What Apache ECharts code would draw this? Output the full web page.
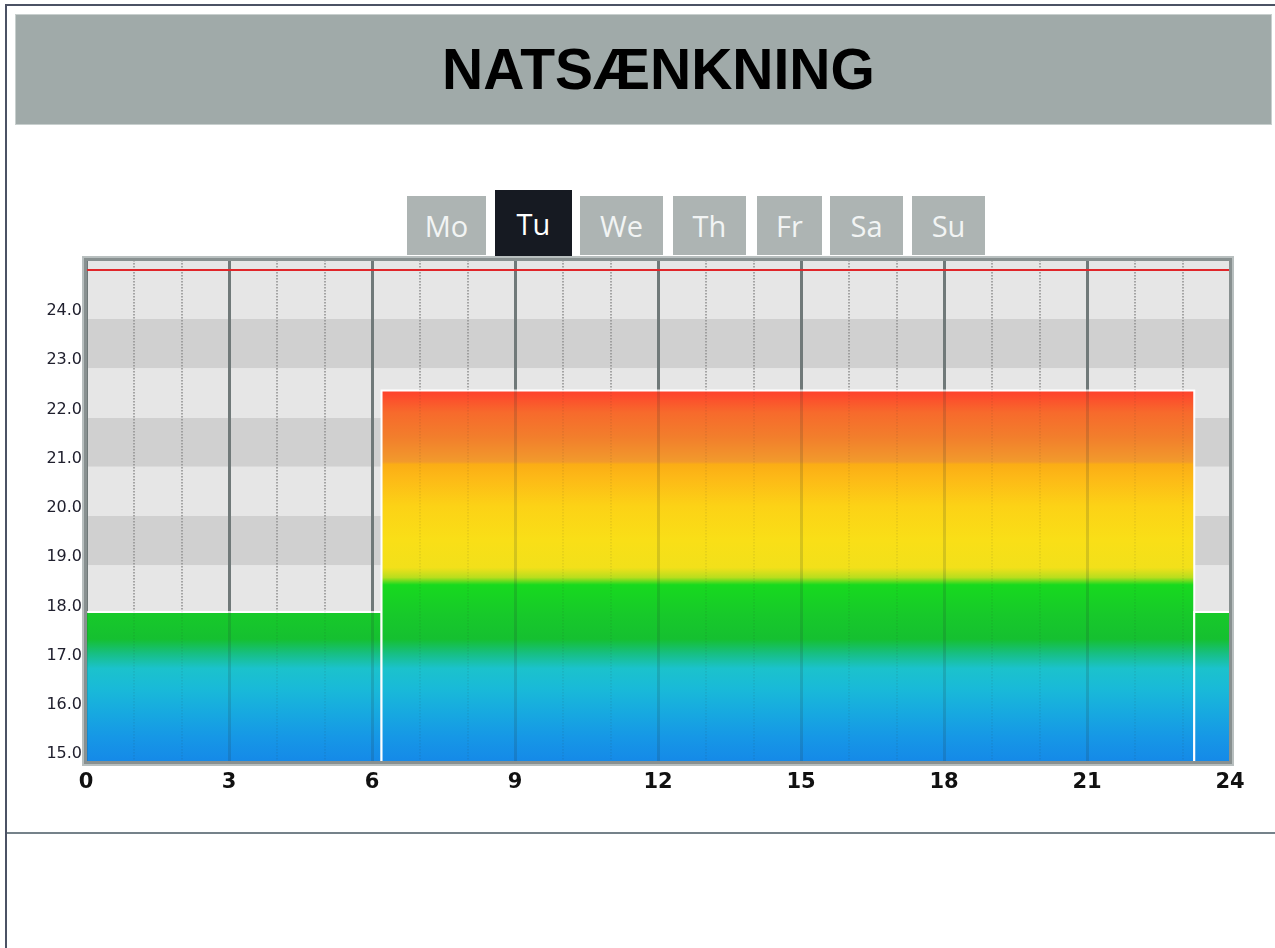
<!DOCTYPE html>
<html>
<head>
<meta charset="utf-8">
<script src="https://cdn.jsdelivr.net/npm/echarts@6/dist/echarts.min.js"></script>
<style>
  body { margin: 0; width: 1275px; height: 948px; background: #fff; position: relative; overflow: hidden; }
  .frame-top { position: absolute; left: 5px; top: 4px; width: 1270px; height: 2px; background: #4b5264; }
  .frame-left { position: absolute; left: 5px; top: 4px; width: 2px; height: 944px; background: #4b5264; }
  .divider { position: absolute; left: 7px; top: 832px; width: 1268px; height: 2px; background: #75828a; }
  .banner { position: absolute; left: 16px; top: 15px; width: 1255px; height: 109px; background: #a0aaa9; box-shadow: 0 0 0 1px #c8cfce; }
  .banner h1 { margin: 0; font: bold 57px/109px "Liberation Sans", Arial, sans-serif; color: #000; text-align: center; padding-left: 30px; }
  .tab { position: absolute; top: 196px; height: 59px; background: #adb4b3; color: #f2f4f4; font: 29px "Open Sans", sans-serif; line-height: 60px; text-align: center; }
  .tab.active { top: 190px; height: 67px; line-height: 68px; background: #161a22; color: #fff; }
  #chart { position: absolute; left: 0; top: 240px; width: 1275px; height: 580px; }
</style>
</head>
<body>
<div class="frame-top"></div>
<div class="frame-left"></div>
<div class="divider"></div>
<div class="banner"><h1>NATSÆNKNING</h1></div>
<div id="tabs"></div>
<div id="chart"></div>

<script>
// week day tabs
const days = ['Mo', 'Tu', 'We', 'Th', 'Fr', 'Sa', 'Su'];
const activeDay = 'Tu';
// tab boxes: [left, width]
const tabBoxes = [[407, 79], [495, 77], [580, 83], [673, 73], [757, 65], [830, 73], [912, 73]];

// schedule for the day (hours) and setpoint temperature
const periodStart = [0, 6.2, 23.25];
const periodEnd = [6.2, 23.25, 24];
const setpoints = [18.05, 22.55, 18.05];
const maxLimit = 25.0;

const xTickLabels = ['0', '3', '6', '9', '12', '15', '18', '21', '24'];
const yTickLabels = ['15.0', '16.0', '17.0', '18.0', '19.0', '20.0', '21.0', '22.0', '23.0', '24.0'];

// colour scale by temperature
const gradTemps = [15.0, 15.5, 16.0, 16.5, 16.9, 17.2, 17.5, 18.0, 18.6, 18.75, 18.95, 19.5, 20.2, 20.8, 21.05, 21.1, 21.6, 22.1, 22.55];
const gradColors = ['#1589e8', '#1697e6', '#17a9e0', '#19bad8', '#1bc2cc', '#17bf84', '#15c030', '#17c92a', '#17da1e', '#b8de1e', '#f2e01a',
  '#f9df17', '#fcd216', '#fdb817', '#fbad15', '#f29a2c', '#f27e2c', '#f76a2c', '#ff402c'];

// horizontal bands from 15 upward, one per degree (last one is the strip above 25)
const bandColors = ['#d0d0d0', '#e6e6e6', '#d0d0d0', '#e6e6e6', '#d0d0d0', '#e6e6e6', '#d0d0d0', '#e6e6e6', '#d0d0d0', '#e6e6e6', '#e6e6e6'];

const yMin = 15, yMax = 25.2;

const tabsEl = document.getElementById('tabs');
days.forEach((d, i) => {
  const el = document.createElement('div');
  el.className = 'tab' + (d === activeDay ? ' active' : '');
  el.style.left = tabBoxes[i][0] + 'px';
  el.style.width = tabBoxes[i][1] + 'px';
  el.textContent = d;
  tabsEl.appendChild(el);
});

const data = periodStart.map((s, i) => [s, periodEnd[i], setpoints[i]]);

function renderItem(params, api) {
  const p0 = api.coord([api.value(0), api.value(2)]);
  const p1 = api.coord([api.value(1), yMin]);
  const last = gradTemps.length - 1;
  const gBot = api.coord([0, gradTemps[0]])[1];
  const gTop = api.coord([0, gradTemps[last]])[1];
  const stops = gradTemps.map((t, i) => ({
    offset: (t - gradTemps[0]) / (gradTemps[last] - gradTemps[0]),
    color: gradColors[i]
  }));
  return {
    type: 'rect',
    shape: { x: p0[0], y: p0[1], width: p1[0] - p0[0], height: p1[1] - p0[1] },
    style: {
      fill: new echarts.graphic.LinearGradient(0, gBot, 0, gTop, stops, true),
      stroke: '#ffffff',
      lineWidth: 2
    }
  };
}

const chart = echarts.init(document.getElementById('chart'));
chart.setOption({
  animation: false,
  grid: { left: 86, top: 20, width: 1144, height: 502, show: false },
  xAxis: [
    {
      type: 'value', min: 0, max: 24, interval: 3, z: 1,
      axisLine: { show: false }, axisTick: { show: false },
      axisLabel: {
        margin: 10, color: '#111', fontFamily: 'DejaVu Sans', fontWeight: 'bold', fontSize: 21,
        formatter: v => xTickLabels.includes(String(v)) ? String(v) : ''
      },
      splitLine: { show: true, lineStyle: { color: '#7f8787', width: 3 } },
      minorTick: { show: false, splitNumber: 3 },
      minorSplitLine: { show: true, lineStyle: { color: '#9c9c9c', width: 1.5, type: 'dotted' } }
    },
    {
      // faint lines drawn over the bars
      type: 'value', min: 0, max: 24, interval: 3, z: 4, position: 'top',
      axisLine: { show: false }, axisTick: { show: false }, axisLabel: { show: false },
      splitLine: { show: true, lineStyle: { color: 'rgba(40,50,50,0.16)', width: 3 } },
      minorTick: { show: false, splitNumber: 3 },
      minorSplitLine: { show: true, lineStyle: { color: 'rgba(40,40,40,0.10)', width: 1.5, type: 'dotted' } }
    }
  ],
  yAxis: {
    type: 'value', min: yMin, max: yMax, interval: 1, z: 0,
    axisLine: { show: false }, axisTick: { show: false }, splitLine: { show: false },
    splitArea: { show: true, areaStyle: { color: bandColors } },
    axisLabel: {
      margin: 4, verticalAlign: 'bottom', fontFamily: 'DejaVu Sans', fontSize: 16, color: '#20202e',
      formatter: v => { const s = v.toFixed(1); return yTickLabels.includes(s) ? s : ''; }
    }
  },
  series: [{
    type: 'custom',
    xAxisIndex: 0,
    renderItem: renderItem,
    encode: { x: [0, 1], y: 2 },
    data: data,
    z: 2,
    markLine: {
      silent: true, symbol: 'none', label: { show: false },
      lineStyle: { color: '#e0262a', width: 2, type: 'solid' },
      data: [{ yAxis: maxLimit }]
    }
  }]
});

// plot frame on top of everything
const tl = chart.convertToPixel({ xAxisIndex: 0, yAxisIndex: 0 }, [0, yMax]);
const br = chart.convertToPixel({ xAxisIndex: 0, yAxisIndex: 0 }, [24, yMin]);
chart.setOption({
  graphic: [
    {
      type: 'rect', silent: true, z: 10,
      shape: { x: tl[0] - 3, y: tl[1] - 3, width: br[0] - tl[0] + 6, height: br[1] - tl[1] + 6 },
      style: { fill: 'none', stroke: '#b8bfbf', lineWidth: 2 }
    },
    {
      type: 'rect', silent: true, z: 10,
      shape: { x: tl[0] - 0.5, y: tl[1] - 0.5, width: br[0] - tl[0] + 1, height: br[1] - tl[1] + 1 },
      style: { fill: 'none', stroke: '#889090', lineWidth: 3 }
    }
  ]
});
</script>
</body>
</html>
